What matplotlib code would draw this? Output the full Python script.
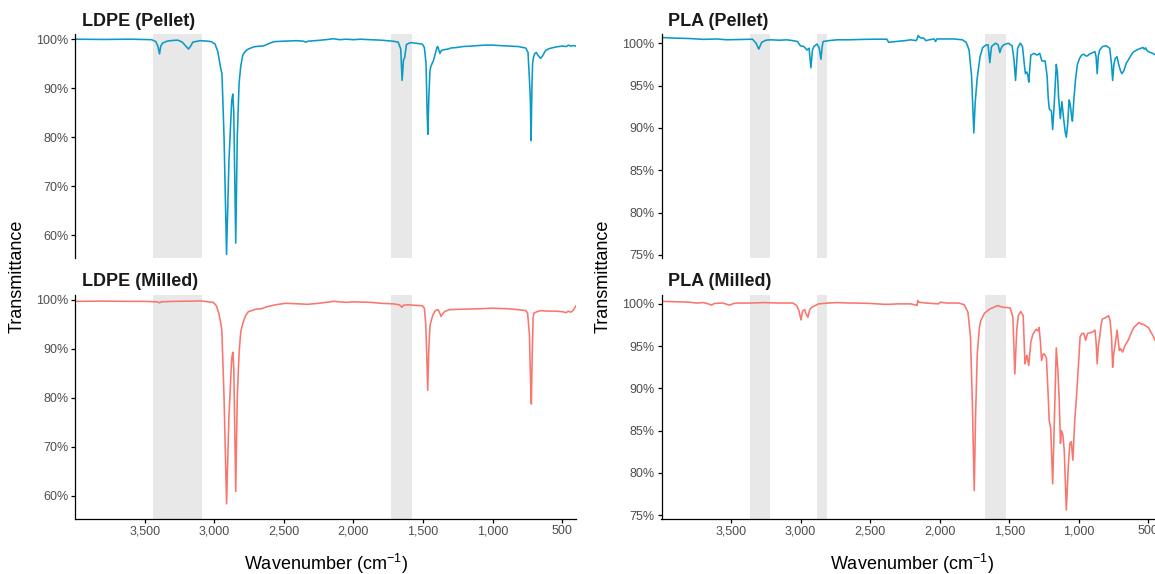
import matplotlib
matplotlib.use("Agg")
import matplotlib.pyplot as plt
from matplotlib.ticker import FixedLocator, FuncFormatter

plt.rcParams["font.family"] = ["Liberation Sans", "DejaVu Sans"]
plt.rcParams["mathtext.fontset"] = "custom"
plt.rcParams["mathtext.rm"] = "Liberation Sans"
plt.rcParams["mathtext.it"] = "Liberation Sans:italic"

# ---------------------------------------------------------------- data
# FTIR spectra: wavenumber (cm^-1) and transmittance (%)
ldpe_pellet_wn = [4000, 3800, 3600, 3450, 3420, 3405, 3394, 3385, 3372, 3340, 3300, 3261, 3230, 3205,
                  3186, 3170, 3154, 3120, 3100, 3050, 3021, 2995, 2975, 2963, 2952, 2945, 2930, 2912,
                  2895, 2875, 2867, 2860, 2846, 2835, 2822, 2810, 2795, 2775, 2755, 2720, 2702, 2670,
                  2649, 2600, 2569, 2500, 2409, 2360, 2343, 2325, 2276, 2200, 2143, 2100, 2050, 2000,
                  1950, 1877, 1800, 1718, 1678, 1660, 1650, 1640, 1632, 1619, 1600, 1585, 1530, 1505,
                  1490, 1478, 1470, 1465, 1458, 1450, 1444, 1432, 1425, 1412, 1400, 1394, 1386, 1378,
                  1370, 1359, 1340, 1319, 1300, 1260, 1213, 1150, 1106, 1050, 1000, 950, 880, 814,
                  780, 761, 745, 735, 728, 723, 717, 712, 707, 698, 686, 670, 655, 640, 625, 614, 590,
                  547, 500, 470, 455, 440, 420, 400]
ldpe_pellet_t = [100.0, 99.95, 100.0, 99.9, 99.5, 98.5, 97.0, 98.6, 99.2, 99.6, 99.75, 99.8, 99.4, 98.6,
                 98.0, 98.6, 99.4, 99.6, 99.7, 99.6, 99.5, 99.0, 97.5, 95.5, 93.8, 93.0, 80.0, 56.1,
                 75.0, 87.5, 88.8, 85.0, 58.4, 80.0, 91.0, 94.5, 96.8, 97.6, 98.0, 98.4, 98.5, 98.6,
                 98.6, 99.2, 99.5, 99.6, 99.7, 99.6, 99.4, 99.6, 99.7, 99.9, 100.1, 99.9, 100.0, 99.9,
                 100.0, 99.9, 99.8, 99.6, 99.4, 98.0, 91.6, 95.8, 96.2, 98.9, 99.2, 99.3, 99.1, 99.0,
                 98.3, 95.0, 85.0, 80.6, 88.0, 93.5, 94.4, 95.2, 95.6, 97.0, 98.3, 98.5, 97.8, 97.1,
                 97.6, 97.8, 97.9, 98.0, 98.2, 98.3, 98.5, 98.6, 98.7, 98.8, 98.8, 98.7, 98.6, 98.5,
                 98.3, 98.2, 97.3, 92.0, 87.6, 79.3, 90.0, 95.0, 96.1, 97.0, 97.3, 96.6, 96.1, 96.6,
                 97.4, 97.8, 98.1, 98.4, 98.6, 98.5, 98.8, 98.6, 98.7, 98.6]

ldpe_milled_wn = [4000, 3800, 3606, 3500, 3410, 3394, 3380, 3300, 3150, 3101, 3040, 3008, 2985, 2968,
                  2955, 2946, 2930, 2912, 2895, 2875, 2867, 2860, 2846, 2835, 2822, 2810, 2795, 2775,
                  2755, 2720, 2702, 2660, 2622, 2560, 2489, 2400, 2329, 2250, 2143, 2050, 2000, 1877,
                  1800, 1718, 1670, 1652, 1640, 1610, 1560, 1505, 1490, 1480, 1472, 1466, 1458, 1450,
                  1446, 1430, 1412, 1391, 1378, 1370, 1360, 1344, 1312, 1213, 1079, 1000, 900, 814,
                  760, 748, 735, 728, 721, 714, 708, 702, 680, 654, 600, 547, 500, 470, 455, 441, 430,
                  414, 405, 400]
ldpe_milled_t = [99.7, 99.75, 99.7, 99.7, 99.6, 99.4, 99.6, 99.7, 99.75, 99.8, 99.6, 99.5, 98.8, 97.3,
                 95.5, 93.9, 80.0, 58.3, 76.0, 88.0, 89.3, 86.0, 60.8, 80.0, 89.1, 93.5, 95.2, 96.8,
                 97.6, 97.9, 98.1, 98.2, 98.6, 99.0, 99.3, 99.2, 99.1, 99.3, 99.7, 99.5, 99.6, 99.5,
                 99.3, 99.2, 99.0, 98.5, 98.9, 99.0, 98.9, 98.8, 98.3, 95.0, 88.0, 81.5, 90.0, 94.5,
                 95.2, 96.8, 97.8, 98.0, 97.2, 96.6, 97.1, 97.6, 98.0, 98.1, 98.2, 98.3, 98.2, 98.0,
                 97.8, 97.3, 93.0, 85.0, 78.7, 90.0, 96.5, 97.3, 97.6, 97.8, 97.7, 97.7, 97.6, 97.4,
                 97.7, 97.5, 97.6, 98.1, 98.6, 98.8]

pla_pellet_wn = [4000, 3900, 3797, 3700, 3600, 3532, 3400, 3346, 3320, 3301, 3280, 3250, 3214, 3150,
                 3100, 3055, 3023, 3002, 2976, 2955, 2939, 2926, 2915, 2904, 2883, 2867, 2854, 2845,
                 2838, 2800, 2737, 2650, 2550, 2473, 2380, 2367, 2340, 2314, 2250, 2208, 2170, 2162,
                 2155, 2145, 2130, 2115, 2100, 2075, 2040, 2030, 2020, 1970, 1900, 1837, 1810, 1789,
                 1771, 1760, 1755, 1745, 1731, 1710, 1691, 1665, 1652, 1640, 1628, 1599, 1580, 1568,
                 1556, 1541, 1506, 1480, 1467, 1455, 1440, 1421, 1405, 1390, 1384, 1374, 1366, 1360,
                 1345, 1321, 1300, 1281, 1266, 1242, 1228, 1220, 1213, 1205, 1197, 1188, 1178, 1170,
                 1162, 1154, 1145, 1133, 1122, 1112, 1098, 1090, 1080, 1070, 1062, 1053, 1046, 1035,
                 1024, 1010, 995, 980, 964, 950, 937, 925, 911, 884, 876, 868, 860, 850, 830, 805,
                 778, 765, 757, 748, 738, 725, 715, 700, 690, 675, 660, 645, 620, 605, 570, 539, 530,
                 520, 513, 500, 486, 470, 447, 420, 400]
pla_pellet_t = [100.67, 100.6, 100.55, 100.45, 100.5, 100.4, 100.45, 100.47, 100.0, 99.3, 100.1, 100.35,
                100.4, 100.35, 100.4, 100.3, 100.2, 99.7, 99.6, 99.2, 99.4, 97.1, 99.2, 99.6, 99.9, 99.5,
                98.1, 99.6, 100.2, 100.3, 100.4, 100.4, 100.45, 100.47, 100.47, 100.1, 100.15, 100.2,
                100.3, 100.4, 100.3, 100.5, 100.9, 100.7, 100.6, 100.6, 100.3, 100.4, 100.5, 100.2,
                100.5, 100.5, 100.5, 100.4, 100.1, 99.2, 96.1, 91.5, 89.4, 93.0, 95.8, 98.4, 99.5, 99.8,
                99.8, 97.7, 99.6, 100.0, 99.8, 98.9, 99.5, 99.8, 100.0, 99.7, 98.2, 95.6, 99.4, 100.0,
                99.6, 97.2, 96.4, 96.6, 96.2, 95.4, 98.6, 98.8, 98.6, 98.8, 97.9, 97.9, 96.1, 93.5, 92.3,
                92.1, 92.0, 89.8, 92.5, 95.0, 97.5, 96.5, 93.5, 91.1, 93.1, 91.5, 89.5, 88.9, 90.5, 93.3,
                92.8, 91.5, 90.8, 93.5, 95.7, 97.5, 98.2, 98.6, 98.7, 98.5, 98.5, 98.7, 98.8, 99.0, 98.4,
                96.4, 98.5, 99.2, 99.6, 99.7, 99.4, 97.5, 95.6, 97.5, 98.2, 98.4, 97.6, 96.7, 96.4, 96.8,
                97.6, 98.0, 98.7, 99.0, 99.3, 99.5, 99.3, 99.45, 99.2, 99.0, 98.9, 98.8, 98.6, 98.5, 98.4]

pla_milled_wn = [4000, 3900, 3797, 3749, 3700, 3664, 3640, 3620, 3560, 3511, 3480, 3452, 3350, 3267,
                 3150, 3055, 3029, 3012, 2997, 2985, 2970, 2965, 2948, 2935, 2920, 2870, 2800, 2737,
                 2650, 2605, 2500, 2400, 2367, 2300, 2208, 2170, 2163, 2158, 2150, 2102, 2050, 2009,
                 1996, 1950, 1864, 1824, 1797, 1779, 1765, 1752, 1742, 1730, 1715, 1705, 1678, 1639,
                 1610, 1586, 1546, 1505, 1493, 1474, 1460, 1446, 1435, 1418, 1400, 1387, 1380, 1373,
                 1360, 1345, 1330, 1307, 1294, 1286, 1276, 1268, 1258, 1249, 1233, 1220, 1213, 1202,
                 1188, 1175, 1162, 1150, 1141, 1132, 1125, 1115, 1105, 1090, 1075, 1064, 1054, 1043,
                 1030, 1017, 1000, 991, 978, 964, 951, 937, 915, 898, 884, 876, 868, 860, 850, 840,
                 831, 805, 786, 775, 765, 757, 750, 738, 725, 716, 709, 700, 685, 670, 645, 625, 605,
                 580, 566, 550, 539, 520, 500, 480, 460, 439, 420, 400]
pla_milled_t = [100.3, 100.25, 100.2, 100.1, 100.15, 100.0, 99.85, 100.05, 100.1, 99.85, 100.05, 100.1,
                100.1, 100.15, 100.1, 100.1, 99.8, 99.2, 98.1, 99.2, 99.3, 99.0, 98.4, 99.3, 99.6, 100.0,
                100.1, 100.15, 100.1, 100.1, 100.05, 99.95, 99.95, 100.0, 100.0, 99.85, 99.8, 100.4,
                100.2, 100.1, 100.05, 100.0, 100.2, 100.1, 100.1, 99.9, 99.0, 96.1, 88.0, 77.9, 87.0,
                94.1, 97.2, 98.0, 98.9, 99.4, 99.6, 99.8, 99.6, 99.55, 99.5, 98.4, 91.7, 97.0, 98.6,
                99.1, 98.6, 92.9, 93.5, 93.9, 92.7, 95.5, 96.4, 97.0, 96.8, 97.2, 95.5, 93.3, 94.0,
                94.1, 93.6, 89.0, 86.2, 85.2, 78.7, 87.0, 94.8, 92.0, 88.5, 83.5, 85.0, 84.5, 82.7,
                75.6, 81.0, 83.5, 83.7, 81.5, 86.0, 89.0, 93.5, 96.1, 96.5, 96.5, 95.7, 96.5, 96.6,
                96.7, 96.9, 95.5, 92.9, 95.0, 96.1, 97.5, 98.2, 98.4, 98.6, 98.0, 96.1, 92.5, 94.0,
                95.3, 96.9, 95.5, 94.5, 94.7, 94.3, 95.0, 95.7, 96.5, 97.2, 97.6, 97.8, 97.6, 97.6,
                97.4, 97.2, 96.6, 96.0, 95.3, 94.6, 94.0]

# highlighted wavenumber windows (cm^-1)
ldpe_bands = [(3444, 3088), (1728, 1580)]
pla_bands = [(3365, 3220), (2885, 2810), (1675, 1524)]

x_ticks = [3500, 3000, 2500, 2000, 1500, 1000, 500]
ldpe_y_ticks = [60, 70, 80, 90, 100]
pla_y_ticks = [75, 80, 85, 90, 95, 100]
ldpe_ylim = (55.3, 101.0)
pla_ylim = (74.6, 101.05)

pellet_color = "#0A9AC7"
milled_color = "#F8766D"
band_color = "#E8E8E8"
tick_text = "#4D4D4D"

# ---------------------------------------------------------------- layout
W, H = 1155, 574
fig = plt.figure(figsize=(W / 100, H / 100), dpi=100)


def px_axes(x0, y_top, x1, y_bot):
    return fig.add_axes([x0 / W, 1 - y_bot / H, (x1 - x0) / W, (y_bot - y_top) / H])


def panel(ax, wn, t, color, bands, ylim, yticks, title, show_x):
    for hi, lo in bands:
        ax.axvspan(lo, hi, color=band_color, lw=0, zorder=0)
    ax.plot(wn, t, color=color, lw=1.15, zorder=2, solid_joinstyle="round")
    ax.set_xlim(4000, 400)
    ax.set_ylim(*ylim)
    ax.yaxis.set_major_locator(FixedLocator(yticks))
    ax.yaxis.set_major_formatter(FuncFormatter(lambda v, p: f"{int(round(v))}%"))
    ax.xaxis.set_major_locator(FixedLocator(x_ticks))
    ax.xaxis.set_major_formatter(FuncFormatter(lambda v, p: f"{int(v):,}"))
    for s in ("top", "right"):
        ax.spines[s].set_visible(False)
    ax.spines["left"].set_linewidth(0.9)
    ax.spines["bottom"].set_linewidth(0.9)
    ax.tick_params(axis="both", which="major", length=3, width=0.9, color="black",
                   labelsize=9, labelcolor=tick_text, pad=2)
    if not show_x:
        ax.spines["bottom"].set_visible(False)
        ax.tick_params(axis="x", bottom=False, labelbottom=False)
    ax.annotate(title, xy=(0, 1), xycoords="axes fraction", xytext=(5, 9.5),
                textcoords="offset points", ha="left", va="center",
                fontsize=13, fontweight="bold", color="#1A1A1A")
    ax.patch.set_alpha(0)


L0, L1 = 75.2, 576.0
R0, R1 = 661.5, 1162.3
TOP = (34.3, 258.3)
BOT = (295.0, 518.5)

ax_lp = px_axes(L0, TOP[0], L1, TOP[1])
ax_lm = px_axes(L0, BOT[0], L1, BOT[1])
ax_pp = px_axes(R0, TOP[0], R1, TOP[1])
ax_pm = px_axes(R0, BOT[0], R1, BOT[1])

panel(ax_lp, ldpe_pellet_wn, ldpe_pellet_t, pellet_color, ldpe_bands, ldpe_ylim, ldpe_y_ticks,
      "LDPE (Pellet)", False)
panel(ax_lm, ldpe_milled_wn, ldpe_milled_t, milled_color, ldpe_bands, ldpe_ylim, ldpe_y_ticks,
      "LDPE (Milled)", True)
panel(ax_pp, pla_pellet_wn, pla_pellet_t, pellet_color, pla_bands, pla_ylim, pla_y_ticks,
      "PLA (Pellet)", False)
panel(ax_pm, pla_milled_wn, pla_milled_t, milled_color, pla_bands, pla_ylim, pla_y_ticks,
      "PLA (Milled)", True)

# shared axis titles for each column
for xc in (17.5 / W, 603 / W):
    fig.text(xc, 1 - 276.5 / H, "Transmittance", rotation=90, ha="center", va="center",
             fontsize=13, color="black")
for xc in ((L0 + L1) / 2 / W, (R0 + R1) / 2 / W):
    fig.text(xc, 1 - 564 / H, r"Wavenumber (cm$^{-1}$)", ha="center", va="center",
             fontsize=13, color="black")

fig.savefig("out.png", dpi=100, facecolor="white")
